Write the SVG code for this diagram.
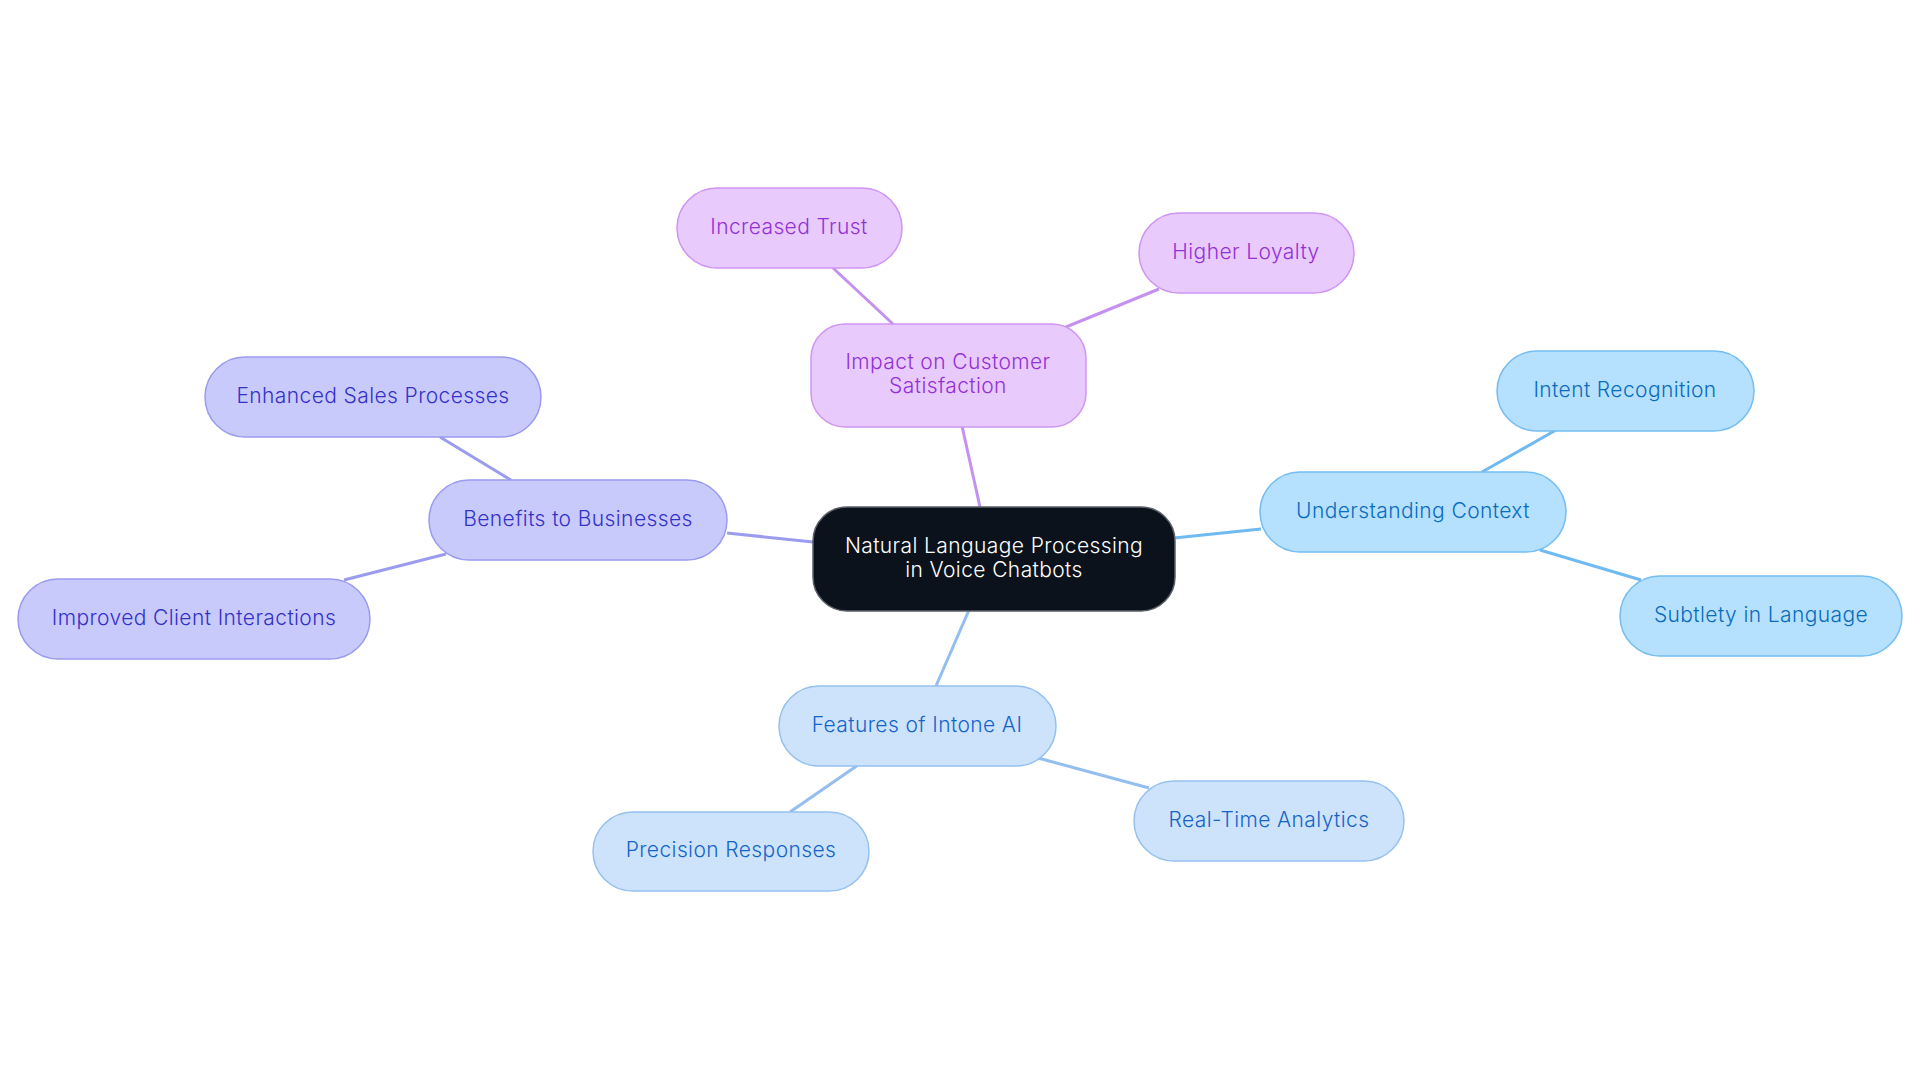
<svg xmlns="http://www.w3.org/2000/svg" width="1920" height="1083" viewBox="0 0 1920 1083">
<style>
text{font-family:Inter,"Noto Sans","Liberation Sans",sans-serif;font-size:21px;font-weight:300;letter-spacing:0.4px;text-anchor:middle}
.c path,.c line{stroke-width:3;fill:none}
.root rect{fill:#0c121b;stroke:#5c6068;stroke-width:1.5}
.root text{fill:#ffffff}
.pu rect{fill:#e8cafd;stroke:#cf95f2;stroke-width:1.5}
.pu text{fill:#9431d6}
.in rect{fill:#c9cafc;stroke:#9a9bee;stroke-width:1.5}
.in text{fill:#3431c9}
.sk rect{fill:#b5e0fe;stroke:#74bdf2;stroke-width:1.5}
.sk text{fill:#0a6cbd}
.bl rect{fill:#cde3fb;stroke:#96c1ef;stroke-width:1.5}
.bl text{fill:#1565c8}
</style>
<rect width="1920" height="1083" fill="#ffffff"/>
<g id="connectors" class="c">
<line x1="980" y1="507" x2="962" y2="426" stroke="#c591f0"/>
<line x1="893" y1="324" x2="833" y2="268" stroke="#c591f0"/>
<line x1="1066" y1="327" x2="1159" y2="289" stroke="#c591f0"/>
<line x1="813" y1="542" x2="727" y2="533" stroke="#9b9cee"/>
<line x1="511" y1="480" x2="440" y2="437" stroke="#9b9cee"/>
<line x1="446" y1="554" x2="344" y2="580" stroke="#9b9cee"/>
<line x1="1174" y1="538" x2="1261" y2="529" stroke="#6fbaf0"/>
<line x1="1482" y1="472" x2="1556" y2="430" stroke="#6fbaf0"/>
<line x1="1540" y1="550" x2="1641" y2="580" stroke="#6fbaf0"/>
<line x1="969" y1="610" x2="936" y2="686" stroke="#94bdf0"/>
<line x1="858" y1="765" x2="790" y2="812" stroke="#94bdf0"/>
<line x1="1038" y1="758" x2="1149" y2="788" stroke="#94bdf0"/>
</g>
<g id="root" class="root"><rect x="813" y="507" width="362" height="104" rx="34"/><text x="994" y="553">Natural Language Processing</text><text x="994" y="577">in Voice Chatbots</text></g>
<g id="impact" class="pu"><rect x="811" y="324" width="275" height="103" rx="34"/><text x="948" y="369">Impact on Customer</text><text x="948" y="393">Satisfaction</text></g>
<g id="trust" class="pu"><rect x="677" y="188" width="225" height="80" rx="40"/><text x="789" y="234">Increased Trust</text></g>
<g id="loyalty" class="pu"><rect x="1139" y="213" width="215" height="80" rx="40"/><text x="1246" y="259">Higher Loyalty</text></g>
<g id="benefits" class="in"><rect x="429" y="480" width="298" height="80" rx="40"/><text x="578" y="526">Benefits to Businesses</text></g>
<g id="sales" class="in"><rect x="205" y="357" width="336" height="80" rx="40"/><text x="373" y="403">Enhanced Sales Processes</text></g>
<g id="client" class="in"><rect x="18" y="579" width="352" height="80" rx="40"/><text x="194" y="625">Improved Client Interactions</text></g>
<g id="context" class="sk"><rect x="1260" y="472" width="306" height="80" rx="40"/><text x="1413" y="518">Understanding Context</text></g>
<g id="intent" class="sk"><rect x="1497" y="351" width="257" height="80" rx="40"/><text x="1625" y="397">Intent Recognition</text></g>
<g id="subtlety" class="sk"><rect x="1620" y="576" width="282" height="80" rx="40"/><text x="1761" y="622">Subtlety in Language</text></g>
<g id="features" class="bl"><rect x="779" y="686" width="277" height="80" rx="40"/><text x="917" y="732">Features of Intone AI</text></g>
<g id="precision" class="bl"><rect x="593" y="812" width="276" height="79" rx="40"/><text x="731" y="857">Precision Responses</text></g>
<g id="realtime" class="bl"><rect x="1134" y="781" width="270" height="80" rx="40"/><text x="1269" y="827">Real-Time Analytics</text></g>
</svg>
